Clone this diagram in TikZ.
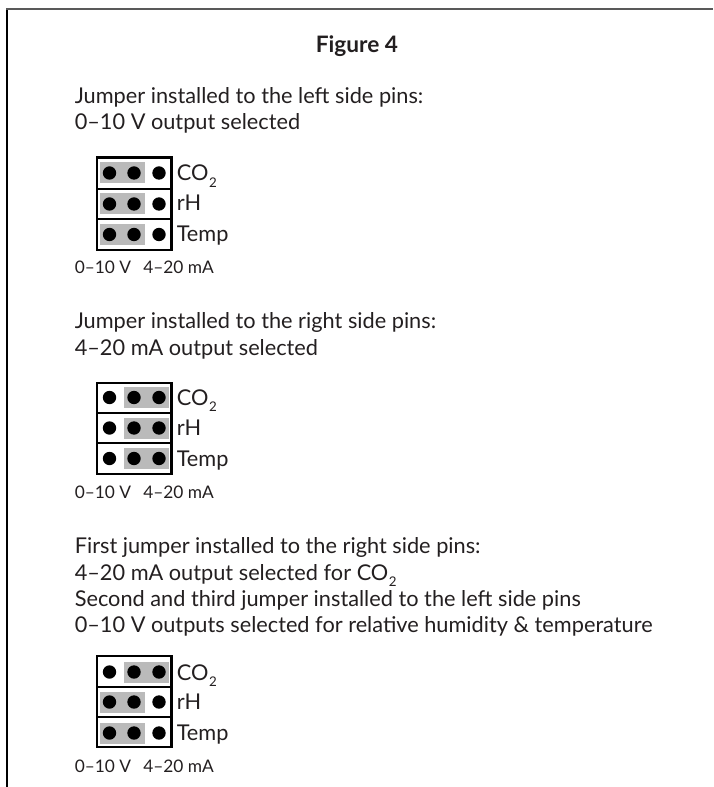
\documentclass[tikz,border=0pt]{standalone}
\usepackage{fontspec}
\setmainfont{Lato}
\definecolor{jumpergrey}{RGB}{186,186,186}
\definecolor{inkgrey}{RGB}{35,31,32}
\tikzset{
    bodytext/.style = {anchor=base west, inner sep=0pt, font=\fontsize{16.3}{16.3}\selectfont, text=inkgrey},
    modelabel/.style = {anchor=base west, inner sep=0pt, font=\fontsize{13}{13}\selectfont, text=inkgrey},
    boxline/.style = {line width=1.9pt, black},
    pins/.pic = {
    \fill[black] (12.5,0) circle (6.7);
    \fill[black] (37,0) circle (6.7);
    \fill[black] (62,0) circle (6.7);
    },
    jumperleft/.pic = {
    \fill[jumpergrey] (3,-10.5) rectangle (48,10.5);
    \pic {pins};
    },
    jumperright/.pic = {
    \fill[jumpergrey] (27,-10.5) rectangle (72,10.5);
    \pic {pins};
    }
}
\newcommand{\subtwo}{\kern0.5pt\raisebox{-5pt}{\fontsize{10}{10}\selectfont 2}}

\begin{document}
\begin{tikzpicture}[x=0.75pt,y=-0.75pt]
	\useasboundingbox (0,0) rectangle (713,787);
	\draw[line width=1.1pt, black] (7,787) -- (7,10);
	\draw[line width=1.5pt, black!65] (6,9.5) -- (713,9.5);
	\node[font=\fontsize{17}{17}\selectfont\bfseries, text=inkgrey, inner sep=0pt, anchor=base] (title) at (357,52.5) {Figure 4};
	% left side pins
	\node[bodytext] (lefta) at (74.5,104) {Jumper installed to the left side pins:};
	\node[bodytext] (leftb) at (74.5,130) {0–10 V output selected};
	\path (97,173) pic {jumperleft};
	\path (97,204) pic {jumperleft};
	\path (97,234.5) pic {jumperleft};
	\draw[boxline] (97,157.5) rectangle (171.5,250);
	\draw[boxline] (97,189) -- (171.5,189);
	\draw[boxline] (97,219) -- (171.5,219);
	\node[bodytext] (coa) at (176.5,181) {CO\subtwo};
	\node[bodytext] (rha) at (176.5,210.5) {rH};
	\node[bodytext] (tempa) at (176.5,241.5) {Temp};
	\node[modelabel] (volta) at (74.5,274) {0–10 V};
	\node[modelabel] (ampa) at (143,274) {4–20 mA};
	% right side pins
	\node[bodytext] (righta) at (74.5,328.5) {Jumper installed to the right side pins:};
	\node[bodytext] (rightb) at (74.5,355) {4–20 mA output selected};
	\path (97,397.5) pic {jumperright};
	\path (97,428) pic {jumperright};
	\path (97,458.5) pic {jumperright};
	\draw[boxline] (97,383) rectangle (171.5,474);
	\draw[boxline] (97,413) -- (171.5,413);
	\draw[boxline] (97,443) -- (171.5,443);
	\node[bodytext] (cob) at (176.5,405) {CO\subtwo};
	\node[bodytext] (rhb) at (176.5,435) {rH};
	\node[bodytext] (tempb) at (176.5,466) {Temp};
	\node[modelabel] (voltb) at (74.5,498) {0–10 V};
	\node[modelabel] (ampb) at (143,498) {4–20 mA};
	% mixed
	\node[bodytext] (mixa) at (74.5,553) {First jumper installed to the right side pins:};
	\node[bodytext] (mixb) at (74.5,580) {4–20 mA output selected for CO\subtwo};
	\node[bodytext] (mixc) at (74.5,606) {Second and third jumper installed to the left side pins};
	\node[bodytext] (mixd) at (74.5,632) {0–10 V outputs selected for relative humidity \& temperature};
	\path (97,672) pic {jumperright};
	\path (97,702) pic {jumperleft};
	\path (97,733) pic {jumperleft};
	\draw[boxline] (97,656) rectangle (171.5,747);
	\draw[boxline] (97,687) -- (171.5,687);
	\draw[boxline] (97,717) -- (171.5,717);
	\node[bodytext] (coc) at (176.5,680) {CO\subtwo};
	\node[bodytext] (rhc) at (176.5,709) {rH};
	\node[bodytext] (tempc) at (176.5,740) {Temp};
	\node[modelabel] (voltc) at (74.5,772) {0–10 V};
	\node[modelabel] (ampc) at (143,772) {4–20 mA};
\end{tikzpicture}
\end{document}
